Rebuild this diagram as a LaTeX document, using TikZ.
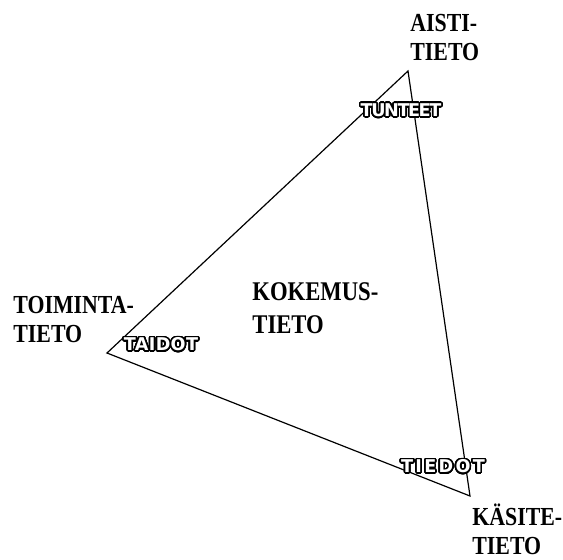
\documentclass[tikz,border=0pt]{standalone}
\usepackage{fontspec}
\usepackage{contour}
\setmainfont{Liberation Serif}[FakeStretch=0.84]
\newfontfamily\skillfont{DejaVu Sans}
\usetikzlibrary{positioning}
\contourlength{0.8pt}
\contournumber{32}

\begin{document}
\begin{tikzpicture}[
    x=0.5pt, y=-0.5pt,
    corner/.style={inner sep=0pt, anchor=base west, align=left, font=\fontsize{13}{14.2}\selectfont\bfseries},
    centre/.style={corner, font=\fontsize{13.5}{16.5}\selectfont\bfseries},
    skill/.style={inner sep=0pt, text=white, font=\fontsize{8.8}{10}\selectfont\skillfont\bfseries},
    side/.style={line width=0.6pt, line join=miter}
]
\useasboundingbox (0,0) rectangle (563,559);
\coordinate (aisti) at (408,71);
\coordinate (toiminta) at (107,353);
\coordinate (kasite) at (470,496);
\draw[side] (aisti) -- (kasite) -- (toiminta) -- cycle;
% corner labels (base = last line)
\node[corner] (aistilbl) at (410,60) {AISTI-\\TIETO};
\node[corner] (toimintalbl) at (13,342) {TOIMINTA-\\TIETO};
\node[corner] (kasitelbl) at (472,554) {KÄSITE-\\TIETO};
\node[centre] (kokemus) at (252,333) {KOKEMUS-\\TIETO};
% outlined labels on the sides
\node[skill] (tunteet) at (401,111) {\addfontfeature{LetterSpace=-8}\contour{black}{TUNTEET}};
\node[skill] (taidot) at (161,345) {\addfontfeature{LetterSpace=2}\contour{black}{TAIDOT}};
\node[skill] (tiedot) at (443,467) {\addfontfeature{LetterSpace=13}\contour{black}{TIEDOT}};
\end{tikzpicture}
\end{document}
